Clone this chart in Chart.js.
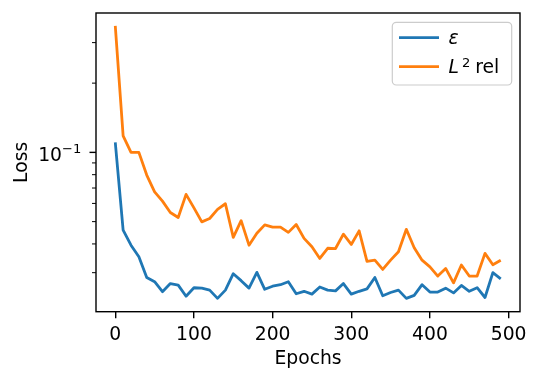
<!DOCTYPE html>
<html>
<head>
<meta charset="utf-8">
<script src="https://cdn.jsdelivr.net/npm/chart.js@4.4.1/dist/chart.umd.min.js"></script>
<style>
html,body{margin:0;padding:0;background:#fff;}
canvas{display:block;}
</style>
</head>
<body>
<canvas id="c" width="540" height="381" style="width:540px;height:381px"></canvas>
<script>
const epochs = [0,10,20,30,40,50,60,70,80,90,100,110,120,130,140,150,160,170,180,190,200,210,220,230,240,250,260,270,280,290,300,310,320,330,340,350,360,370,380,390,400,410,420,430,440,450,460,470,480,490];
const epsLoss = [0.1105,0.0459,0.0395,0.0352,0.0286,0.0274,0.0248,0.0269,0.0265,0.0237,
                 0.0258,0.0257,0.0252,0.0232,0.0252,0.0297,0.0277,0.0257,0.0301,0.0254,
                 0.0262,0.0266,0.0274,0.0243,0.0249,0.0242,0.0260,0.0252,0.0250,0.0269,
                 0.0242,0.0249,0.0255,0.0286,0.0238,0.0246,0.0252,0.0232,0.0239,0.0266,
                 0.0247,0.0247,0.0257,0.0245,0.0264,0.0249,0.0258,0.0234,0.0300,0.0282];
const l2Rel = [0.355,0.118,0.100,0.100,0.0797,0.0674,0.0614,0.0548,0.0521,0.0657,
               0.0574,0.0499,0.0516,0.0565,0.0598,0.0427,0.0505,0.0395,0.0445,0.0484,
               0.0473,0.0473,0.0449,0.0486,0.0423,0.0389,0.0346,0.0383,0.0382,0.0441,
               0.0398,0.0456,0.0336,0.0340,0.0310,0.0340,0.0370,0.0463,0.0385,0.0340,
               0.0318,0.0290,0.0313,0.0271,0.0324,0.0290,0.0290,0.0364,0.0325,0.0340];
const xTickValues = [0,100,200,300,400,500];
const yMajorTicks = [0.1];
const yMinorTicks = [0.03,0.04,0.05,0.06,0.07,0.08,0.09,0.2,0.3];
const yTickBase = ['10'];
const yTickExp = ['\u22121'];
const seriesNames = ['\u03B5', 'L', '2', 'rel'];
const colors = ['#1f77b4', '#ff7f0e'];

const FONT = 'DejaVu Sans';
const FS = 18.75;
const FSS = 13.1;

const decor = {
  id: 'decor',
  afterDraw(chart) {
    const {ctx, chartArea: a, scales: {y}} = chart;
    ctx.save();
    ctx.strokeStyle = '#000';
    yMajorTicks.concat(yMinorTicks).forEach(v => {
      const py = y.getPixelForValue(v);
      const major = yMajorTicks.includes(v);
      ctx.lineWidth = major ? 1.4 : 1.0;
      const len = major ? 6.5 : 4;
      ctx.beginPath();
      ctx.moveTo(a.left - len, py);
      ctx.lineTo(a.left, py);
      ctx.stroke();
    });
    // y major tick labels (10^-1 style)
    ctx.fillStyle = '#000';
    ctx.textBaseline = 'alphabetic';
    yMajorTicks.forEach((v, i) => {
      const py = y.getPixelForValue(v);
      ctx.font = FS + 'px "' + FONT + '"';
      ctx.textAlign = 'right';
      ctx.fillText(yTickBase[i], a.left - 34, py + 8.4);
      ctx.font = FSS + 'px "' + FONT + '"';
      ctx.textAlign = 'left';
      ctx.fillText(yTickExp[i], a.left - 34, py + 1.0);
    });
    ctx.lineWidth = 1.4;
    ctx.strokeRect(a.left, a.top, a.right - a.left, a.bottom - a.top);
    // legend
    const bw = 119.4, bh = 62.7, r = 4;
    const bx = a.right - 8.3 - bw, by = a.top + 9.3;
    ctx.beginPath();
    ctx.moveTo(bx + r, by);
    ctx.lineTo(bx + bw - r, by);
    ctx.arcTo(bx + bw, by, bx + bw, by + r, r);
    ctx.lineTo(bx + bw, by + bh - r);
    ctx.arcTo(bx + bw, by + bh, bx + bw - r, by + bh, r);
    ctx.lineTo(bx + r, by + bh);
    ctx.arcTo(bx, by + bh, bx, by + bh - r, r);
    ctx.lineTo(bx, by + r);
    ctx.arcTo(bx, by, bx + r, by, r);
    ctx.closePath();
    ctx.fillStyle = 'rgba(255,255,255,0.8)';
    ctx.fill();
    ctx.strokeStyle = '#cccccc';
    ctx.lineWidth = 1.2;
    ctx.stroke();
    const lx0 = bx + 6.7, lx1 = bx + 46.7, tx = bx + 56.2;
    const rows = [by + 15.4, by + 44.4];
    ctx.lineWidth = 2.8;
    rows.forEach((ry, i) => {
      ctx.strokeStyle = colors[i];
      ctx.beginPath();
      ctx.moveTo(lx0, ry);
      ctx.lineTo(lx1, ry);
      ctx.stroke();
    });
    ctx.fillStyle = '#000';
    ctx.textAlign = 'left';
    ctx.font = 'italic ' + FS + 'px "' + FONT + '"';
    ctx.fillText(seriesNames[0], tx, rows[0] + 6.4);
    const base = rows[1] + 6.6;
    ctx.fillText(seriesNames[1], tx, base);
    ctx.font = FSS + 'px "' + FONT + '"';
    ctx.fillText(seriesNames[2], bx + 69.8, base - 6.6);
    ctx.font = FS + 'px "' + FONT + '"';
    ctx.fillText(seriesNames[3], bx + 82.9, base);
    ctx.restore();
  }
};

const makeData = vals => epochs.map((e, i) => ({x: e, y: vals[i]}));

new Chart(document.getElementById('c'), {
  type: 'line',
  data: {
    datasets: [
      {label: 'ε', data: makeData(epsLoss), borderColor: colors[0], backgroundColor: colors[0],
       borderWidth: 2.8, pointRadius: 0, tension: 0, borderJoinStyle: 'round', fill: false},
      {label: 'L² rel', data: makeData(l2Rel), borderColor: colors[1], backgroundColor: colors[1],
       borderWidth: 2.8, pointRadius: 0, tension: 0, borderJoinStyle: 'round', fill: false}
    ]
  },
  options: {
    responsive: false,
    devicePixelRatio: 1,
    animation: false,
    events: [],
    layout: {padding: {left: 0, right: 20, top: 13, bottom: 0}},
    plugins: {legend: {display: false}, tooltip: {enabled: false}},
    scales: {
      x: {
        type: 'linear',
        min: -24.5, max: 514.5,
        afterBuildTicks: s => { s.ticks = xTickValues.map(v => ({value: v})); },
        afterFit: s => { s.height = 69.3; s.paddingLeft = 0; s.paddingRight = 0; },
        border: {display: false},
        grid: {drawOnChartArea: false, drawTicks: true, tickLength: 6.5, tickColor: '#000', tickWidth: 1.4, color: '#000', lineWidth: 1.4},
        ticks: {autoSkip: false, maxRotation: 0, color: '#000', padding: 5.5, font: {family: FONT, size: FS}},
        title: {display: true, text: 'Epochs', color: '#000', font: {family: FONT, size: FS}, padding: {top: 0, bottom: 11}}
      },
      y: {
        type: 'logarithmic',
        min: 0.0203, max: 0.4035,
        bounds: 'data',
        afterBuildTicks: s => { s.ticks = yMajorTicks.map(v => ({value: v})); },
        afterFit: s => { s.width = 96; s.paddingTop = 0; s.paddingBottom = 0; },
        border: {display: false},
        grid: {display: false, drawTicks: false},
        ticks: {display: false},
        title: {display: true, text: 'Loss', color: '#000', font: {family: FONT, size: FS}, padding: {top: 10.5, bottom: 0}}
      }
    }
  },
  plugins: [decor]
});
</script>
</body>
</html>
